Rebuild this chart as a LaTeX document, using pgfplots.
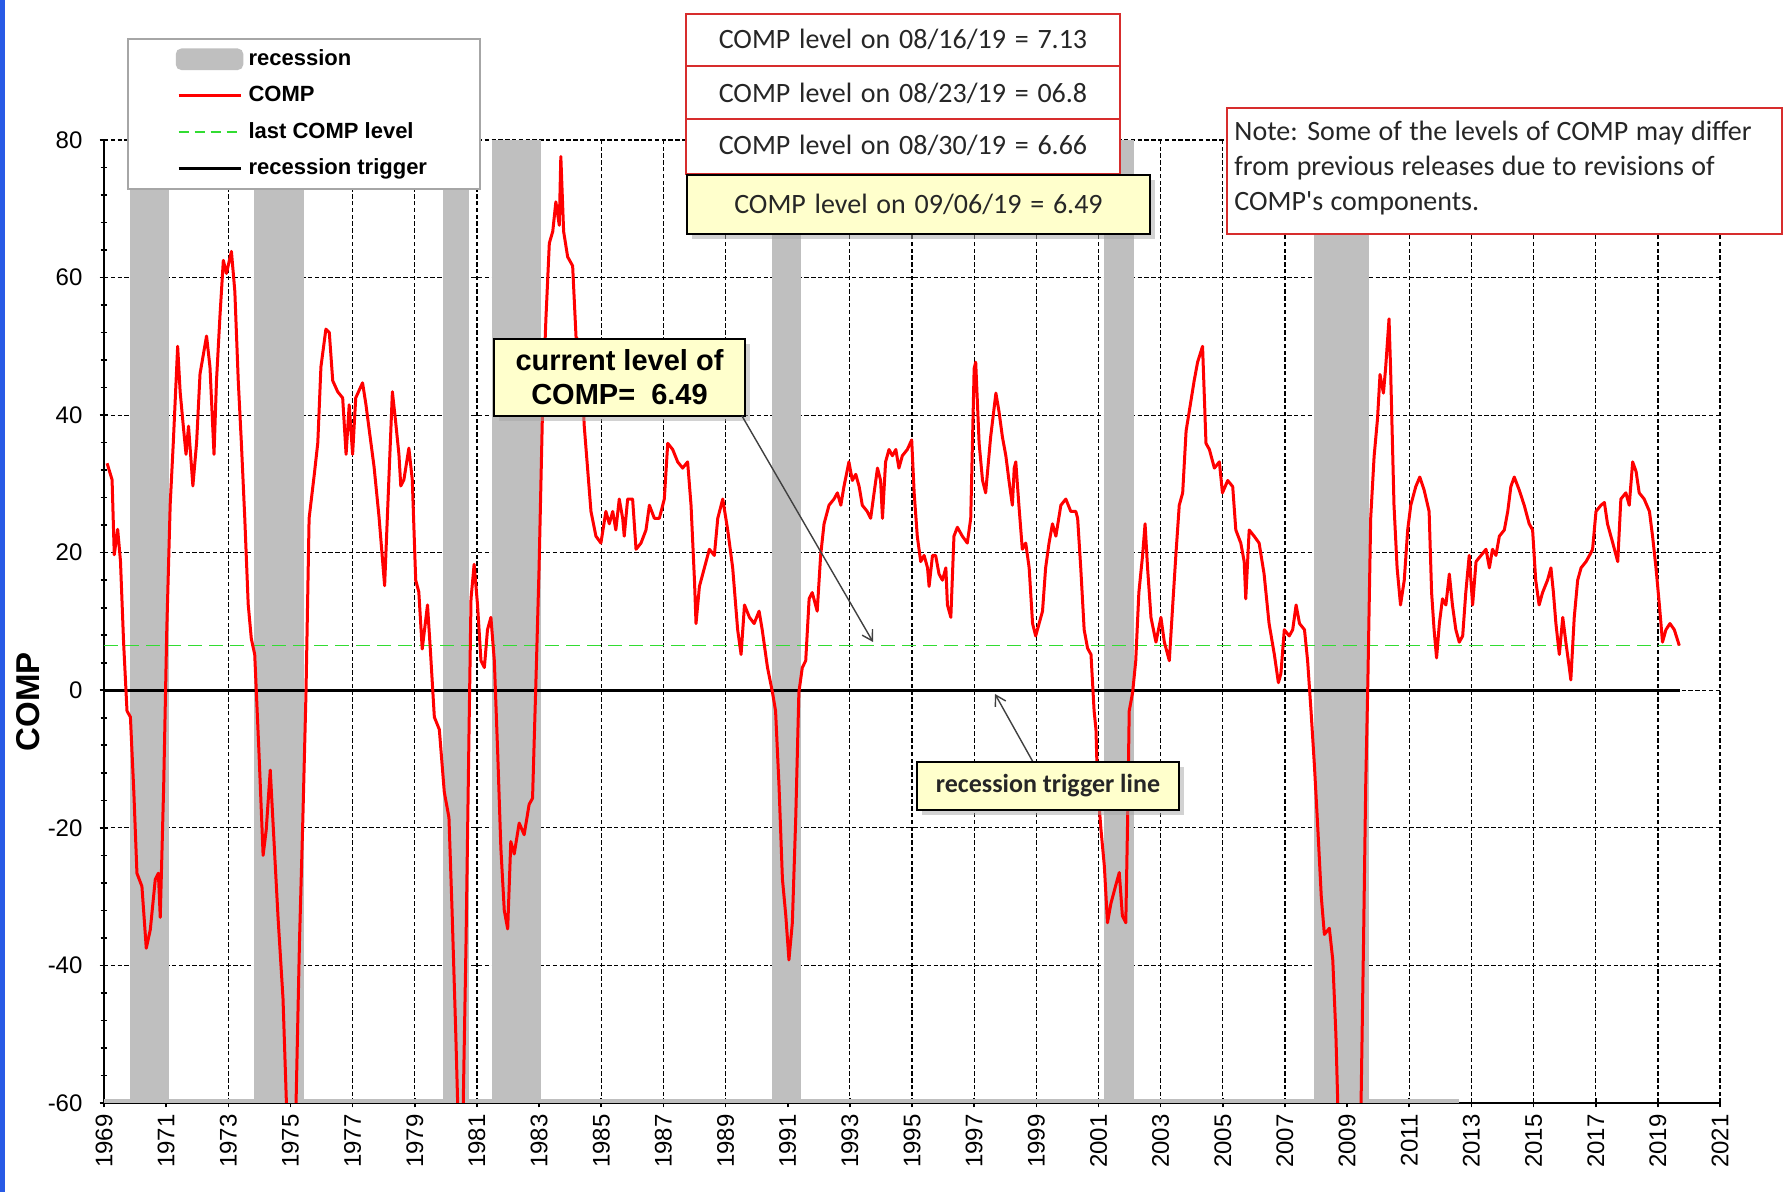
\documentclass[border=0pt]{standalone}
\usepackage{fontspec}
\setmainfont{Liberation Sans}
\newfontfamily\calibri{Carlito}
\usepackage{pgfplots}
\pgfplotsset{compat=1.18}
\usetikzlibrary{shadows,arrows.meta}

\definecolor{recgray}{RGB}{191,191,191}
\definecolor{compred}{RGB}{255,0,0}
\definecolor{lastgreen}{RGB}{50,220,50}
\definecolor{boxyellow}{RGB}{255,255,204}
\definecolor{boxred}{RGB}{215,45,45}
\definecolor{leftblue}{RGB}{40,90,230}

\tikzset{px/.style={x=0.5pt,y=-0.5pt,shift={(-52pt,551.5pt)}},
  yshadow/.style={drop shadow={shadow xshift=2.5pt,shadow yshift=-2.5pt,fill=black!35}}}
\newcommand{\boxfont}{\calibri\fontsize{14}{16}\selectfont\spaceskip=4.4pt plus 1pt minus 0.5pt\relax}
\newcommand{\notefont}{\calibri\fontsize{14}{16}\selectfont\spaceskip=3.7pt plus 1pt minus 0.5pt\relax}

\begin{document}
\begin{tikzpicture}
\begin{scope}[px]
  \fill[white] (0,0) rectangle (1789,1192);
  \fill[leftblue] (0,0) rectangle (5,1192);
\end{scope}

\begin{axis}[
  at={(0,0)}, anchor=south west, scale only axis,
  width=808pt, height=481.5pt,
  xmin=1969, xmax=2021, ymin=-60, ymax=80,
  axis lines=left, axis line style={-, line width=1.1pt},
  xtick={1969,1971,...,2021}, ytick={-60,-40,...,80},
  minor x tick num=1, minor y tick num=4,
  tick align=center, major tick length=4.5pt, minor tick length=3.5pt,
  tick style={black, line width=0.8pt},
  grid=major, major grid style={black, line width=0.6pt, dash pattern=on 2.2pt off 1.2pt},
  ticklabel style={font=\fontsize{12}{14}\selectfont},
  /pgf/number format/assume math mode=true,
  xticklabel style={rotate=90, anchor=east, /pgf/number format/1000 sep={}},
  yticklabel style={xshift=-5pt},
  scaled ticks=false,
  legend style={at={(0.0142,1.1059)}, anchor=north west, draw=gray!70, line width=0.8pt,
    fill=white, inner xsep=24pt, inner ysep=3.5pt, row sep=4.8pt,
    font=\bfseries\fontsize{11}{13}\selectfont, nodes={inner xsep=2.6pt}},
  legend cell align=left,
]
% recession bars
\addplot[fill=recgray, draw=none, forget plot] coordinates {(1969.85,-60)(1969.85,80)(1971.08,80)(1971.08,-60)};
\addplot[fill=recgray, draw=none, forget plot] coordinates {(1973.82,-60)(1973.82,80)(1975.42,80)(1975.42,-60)};
\addplot[fill=recgray, draw=none, forget plot] coordinates {(1979.92,-60)(1979.92,80)(1980.73,80)(1980.73,-60)};
\addplot[fill=recgray, draw=none, forget plot] coordinates {(1981.48,-60)(1981.48,80)(1983.06,80)(1983.06,-60)};
\addplot[fill=recgray, draw=none, forget plot] coordinates {(1990.48,-60)(1990.48,80)(1991.42,80)(1991.42,-60)};
\addplot[fill=recgray, draw=none, forget plot] coordinates {(2001.19,-60)(2001.19,80)(2002.13,80)(2002.13,-60)};
\addplot[fill=recgray, draw=none, forget plot] coordinates {(2007.93,-60)(2007.93,80)(2009.71,80)(2009.71,-60)};
\addplot[fill=recgray, draw=none, forget plot] coordinates {(1969,-60)(1969,-59.4)(2012.6,-59.4)(2012.6,-60)};
% recession trigger
\addplot[black, line width=1.4pt, forget plot] coordinates {(1969,0)(2019.72,0)};
% last COMP level
\addplot[lastgreen, line width=0.8pt, dash pattern=on 7pt off 3.5pt, forget plot] coordinates {(1969,6.49)(2019.72,6.49)};
% COMP
\addplot[compred, line width=1.5pt, line join=round, forget plot] coordinates {
(1969.10,33)(1969.26,30.6)(1969.33,19.7)(1969.44,23.4)(1969.53,18.8)(1969.63,7)(1969.74,-3)(1969.85,-3.9)
(1969.96,-14.8)(1970.06,-26.6)(1970.22,-28.5)(1970.36,-37.5)(1970.49,-34.8)(1970.65,-27.5)(1970.75,-26.6)
(1970.81,-33)(1970.92,-14)(1971.02,8.8)(1971.13,27)(1971.23,36)(1971.37,50)(1971.45,43.4)(1971.56,38)
(1971.64,34.3)(1971.72,38.4)(1971.86,29.7)(1971.98,36)(1972.09,46)(1972.30,51.5)(1972.41,47)(1972.54,34.3)
(1972.62,45)(1972.73,54.3)(1972.84,62.5)(1972.94,60.6)(1973.10,63.8)(1973.21,58)(1973.32,45)(1973.42,36)
(1973.53,25)(1973.64,12.5)(1973.74,7.5)(1973.85,5.2)(1973.99,-9.4)(1974.12,-24)(1974.22,-20.3)(1974.35,-11.6)
(1974.43,-18.5)(1974.60,-33)(1974.76,-44.8)(1974.87,-60)(1974.95,-66)(1975.10,-66)(1975.18,-60)(1975.29,-36.6)
(1975.40,-18.5)(1975.50,-0.3)(1975.60,25)(1975.77,31.5)(1975.88,36)(1975.98,47)(1976.14,52.5)(1976.25,52)
(1976.36,45)(1976.52,43.4)(1976.68,42.5)(1976.79,34.3)(1976.89,41.5)(1977.00,34.3)(1977.10,42.5)(1977.32,44.7)
(1977.43,41.5)(1977.53,38)(1977.69,32.5)(1977.85,25.2)(1978.03,15.2)(1978.15,28.8)(1978.28,43.4)(1978.39,38.8)
(1978.49,34.3)(1978.55,29.7)(1978.65,30.6)(1978.81,35.2)(1978.92,30.6)(1979.03,16)(1979.13,14.3)(1979.24,6)
(1979.41,12.4)(1979.50,6)(1979.63,-3.9)(1979.79,-5.7)(1979.95,-14.8)(1980.10,-18.5)(1980.20,-32)(1980.32,-50)
(1980.38,-60)(1980.45,-66)(1980.50,-66)(1980.56,-60)(1980.65,-36.5)(1980.75,-4.8)(1980.81,13.3)(1980.91,18.3)
(1981.02,12.4)(1981.13,4.3)(1981.24,3.3)(1981.34,8.8)(1981.45,10.6)(1981.56,4.3)(1981.67,-9.3)(1981.77,-22.9)
(1981.88,-32)(1981.99,-34.7)(1982.09,-22)(1982.20,-23.8)(1982.36,-19.3)(1982.52,-21)(1982.68,-16.6)(1982.79,-15.7)
(1982.90,1.5)(1983.00,17.8)(1983.11,40.5)(1983.22,54)(1983.33,65)(1983.44,66.7)(1983.54,71)(1983.65,67.6)
(1983.70,77.6)(1983.79,66.7)(1983.92,63)(1984.08,61.7)(1984.19,51.3)(1984.35,50.4)(1984.45,38.6)(1984.56,32.3)
(1984.67,26)(1984.83,22.4)(1984.99,21.4)(1985.15,26)(1985.26,24.2)(1985.37,26)(1985.47,23.3)(1985.58,27.8)
(1985.69,25)(1985.74,22.4)(1985.85,27.8)(1986.01,27.8)(1986.12,20.5)(1986.28,21.4)(1986.44,23.3)(1986.55,26.9)
(1986.71,25)(1986.87,25)(1987.03,27.8)(1987.14,35.9)(1987.30,35)(1987.46,33.2)(1987.62,32.3)(1987.78,33.2)
(1987.89,26.9)(1988.00,16)(1988.05,9.7)(1988.16,15.1)(1988.32,17.8)(1988.48,20.5)(1988.64,19.6)(1988.75,25)
(1988.91,27.8)(1989.07,23.3)(1989.23,17.8)(1989.39,8.8)(1989.50,5.2)(1989.61,12.4)(1989.77,10.6)(1989.92,9.7)
(1990.08,11.5)(1990.18,8.8)(1990.35,3.3)(1990.51,-0.3)(1990.61,-3)(1990.72,-13.8)(1990.83,-27.4)(1990.94,-32.8)
(1991.04,-39.2)(1991.15,-33.8)(1991.26,-18.4)(1991.36,-0.3)(1991.47,3.3)(1991.58,4.3)(1991.69,13.3)(1991.79,14.2)
(1991.95,11.5)(1992.06,19.6)(1992.17,24.2)(1992.33,26.9)(1992.49,27.8)(1992.60,28.7)(1992.71,26.9)(1992.81,29.6)
(1992.97,33.2)(1993.08,30.5)(1993.19,31.4)(1993.30,29.6)(1993.40,26.9)(1993.56,26)(1993.67,25)(1993.78,28.7)
(1993.89,32.3)(1993.99,30.5)(1994.05,25)(1994.15,33.2)(1994.26,35)(1994.37,34.1)(1994.48,35)(1994.58,32.3)
(1994.69,34.1)(1994.85,35)(1994.99,36.4)(1995.07,28.7)(1995.17,22.4)(1995.28,18.7)(1995.39,19.6)(1995.50,17.8)
(1995.55,15.1)(1995.66,19.6)(1995.76,19.6)(1995.87,16.9)(1995.98,16)(1996.09,17.8)(1996.14,12.4)(1996.25,10.6)
(1996.35,22.4)(1996.46,23.7)(1996.62,22.4)(1996.78,21.4)(1996.89,25)(1997.00,46.8)(1997.05,47.7)(1997.16,35.9)
(1997.27,30.5)(1997.37,28.7)(1997.53,36.8)(1997.70,43.2)(1997.80,40.5)(1997.91,36.8)(1998.02,34.1)(1998.12,30.5)
(1998.23,26.9)(1998.29,32.3)(1998.34,33.2)(1998.44,26.9)(1998.55,20.5)(1998.66,21.4)(1998.77,17.8)(1998.88,9.7)
(1998.98,7.9)(1999.09,9.7)(1999.20,11.5)(1999.30,17.8)(1999.41,21.4)(1999.52,24.2)(1999.63,22.4)(1999.79,26.9)
(1999.95,27.8)(2000.11,26)(2000.27,26)(2000.33,25)(2000.43,17.8)(2000.54,8.8)(2000.65,6.1)(2000.76,5.2)
(2000.86,-3)(2000.92,-5.7)(2000.97,-13.8)(2001.08,-20.2)(2001.19,-25.6)(2001.29,-33.8)(2001.40,-31)(2001.56,-28.3)
(2001.67,-26.5)(2001.77,-32.8)(2001.88,-33.8)(2001.94,-18.4)(2001.99,-3)(2002.10,-0.3)(2002.20,4.3)(2002.30,14.2)
(2002.42,19.6)(2002.50,24.2)(2002.58,17.8)(2002.69,10.6)(2002.85,7)(2003.01,10.6)(2003.12,7)(2003.28,4.3)
(2003.39,12.4)(2003.49,19.6)(2003.60,26.9)(2003.71,28.7)(2003.82,37.7)(2003.92,40.5)(2004.08,45)(2004.19,47.7)
(2004.35,50)(2004.46,35.9)(2004.57,35)(2004.73,32.3)(2004.89,33.2)(2004.99,28.7)(2005.16,30.5)(2005.32,29.6)
(2005.42,23.3)(2005.58,21.4)(2005.69,18.7)(2005.74,13.3)(2005.85,23.3)(2006.01,22.4)(2006.17,21.4)(2006.33,16.9)
(2006.49,9.7)(2006.66,5.2)(2006.79,1.1)(2006.87,2.4)(2006.98,8.8)(2007.14,7.9)(2007.25,8.8)(2007.36,12.4)
(2007.47,9.7)(2007.63,8.8)(2007.73,4.3)(2007.84,-3)(2007.95,-11)(2008.06,-20.2)(2008.17,-30)(2008.27,-35.5)
(2008.43,-34.6)(2008.54,-39.2)(2008.64,-50)(2008.70,-60)(2008.80,-66)(2009.35,-66)(2009.45,-60)(2009.53,-36.5)
(2009.60,-13.8)(2009.67,1.5)(2009.76,25)(2009.87,34)(2009.98,39.5)(2010.06,45.9)(2010.17,43.2)(2010.24,46.8)
(2010.35,54)(2010.40,46.8)(2010.51,26.9)(2010.61,17.8)(2010.72,12.4)(2010.84,16)(2010.95,23.3)(2011.05,26.9)
(2011.21,29.6)(2011.34,31)(2011.48,29.1)(2011.64,26)(2011.72,14.2)(2011.80,8.8)(2011.88,4.7)(2011.97,9.7)
(2012.07,13.3)(2012.18,12.4)(2012.29,16.9)(2012.39,12.4)(2012.50,8.8)(2012.61,7)(2012.72,7.9)(2012.82,14.2)
(2012.93,19.6)(2013.04,12.4)(2013.15,18.7)(2013.31,19.6)(2013.47,20.5)(2013.58,17.8)(2013.68,20.5)(2013.79,19.6)
(2013.90,22.4)(2014.06,23.3)(2014.17,26)(2014.27,29.6)(2014.38,31)(2014.54,29.1)(2014.70,26.9)(2014.86,24.2)
(2014.97,23.3)(2015.07,16)(2015.18,12.4)(2015.29,14.2)(2015.45,16)(2015.56,17.8)(2015.64,14.2)(2015.72,9.7)
(2015.83,5.2)(2015.94,10.6)(2016.04,7)(2016.15,3.3)(2016.20,1.5)(2016.31,10.6)(2016.42,16)(2016.53,17.8)
(2016.69,18.7)(2016.80,19.6)(2016.90,20.5)(2017.01,26)(2017.17,26.9)(2017.28,27.3)(2017.38,24.2)(2017.55,21.4)
(2017.71,18.7)(2017.81,27.8)(2017.97,28.7)(2018.08,26.9)(2018.19,33.2)(2018.30,31.8)(2018.40,28.7)(2018.56,27.8)
(2018.73,26)(2018.83,22.4)(2018.94,17.8)(2019.05,12.4)(2019.15,7)(2019.26,8.8)(2019.39,9.7)(2019.53,8.8)(2019.69,6.5)
};
% legend
\addlegendimage{legend image code/.code={\fill[recgray, rounded corners=2.5pt] (0pt,-5pt) rectangle (33pt,5pt);}}
\addlegendentry{recession}
\addlegendimage{compred, line width=1.3pt, legend image code/.code={\draw (1pt,0pt) -- (32pt,0pt);}}
\addlegendentry{COMP}
\addlegendimage{lastgreen, line width=0.8pt, dash pattern=on 5pt off 3pt, legend image code/.code={\draw (1pt,0pt) -- (32pt,0pt);}}
\addlegendentry{last COMP level}
\addlegendimage{black, line width=1.3pt, legend image code/.code={\draw (1pt,0pt) -- (32pt,0pt);}}
\addlegendentry{recession trigger}
\end{axis}

\begin{scope}[px]
  % stacked weekly boxes
  \filldraw[fill=white, draw=boxred, line width=0.8pt] (686,14) rectangle (1120,174);
  \draw[boxred, line width=0.8pt] (686,66) -- (1120,66) (686,119) -- (1120,119);
  \node[font=\boxfont, text=black!85] at (903,39) {COMP level on 08/16/19 = 7.13};
  \node[font=\boxfont, text=black!85] at (903,93) {COMP level on 08/23/19 = 06.8};
  \node[font=\boxfont, text=black!85] at (903,145) {COMP level on 08/30/19 = 6.66};
  % current week box
  \node[draw=black, line width=0.8pt, fill=boxyellow, yshadow, minimum width=231.5pt, minimum height=29.5pt,
        inner sep=0pt, font=\boxfont, text=black!85] at (918.5,204.5)
        {COMP level on 09/06/19 = 6.49};
  % note box
  \filldraw[fill=white, draw=boxred, line width=0.8pt] (1227,108) rectangle (1782,234);
  \node[anchor=west, inner sep=0pt, font=\notefont, text=black!85] at (1234,133) {Note: Some of the levels of COMP may differ};
  \node[anchor=west, inner sep=0pt, font=\notefont, text=black!85] at (1234,168) {from previous releases due to revisions of};
  \node[anchor=west, inner sep=0pt, font=\notefont, text=black!85] at (1234,203) {COMP's components.};
  % current level callout
  \node[draw=black, line width=0.8pt, fill=boxyellow, yshadow, minimum width=125.5pt, minimum height=38.5pt,
        inner sep=0pt, align=center, font=\bfseries\fontsize{14.5}{17}\selectfont] at (619.5,377.5)
        {current level of\\COMP=\ \ 6.49};
  \draw[black!75, line width=0.7pt, -{Straight Barb[length=5pt,width=6pt]}] (742,416) -- (873,642);
  % recession trigger callout
  \draw[black!75, line width=0.7pt, -{Straight Barb[length=5pt,width=6pt]}] (1033,762) -- (995,694);
  \node[draw=black, line width=0.8pt, fill=boxyellow, yshadow, minimum width=131pt, minimum height=24pt,
        inner sep=0pt, font=\calibri\bfseries\fontsize{13}{15}\selectfont, text=black!85] at (1048,786)
        {recession trigger line};
  % y label
  \node[rotate=90, font=\bfseries\fontsize{16.5}{20}\selectfont] at (28.5,702) {COMP};
\end{scope}

\pgfresetboundingbox
\begin{scope}[px]
  \path[use as bounding box] (0,0) rectangle (1789,1192);
\end{scope}
\end{tikzpicture}
\end{document}
